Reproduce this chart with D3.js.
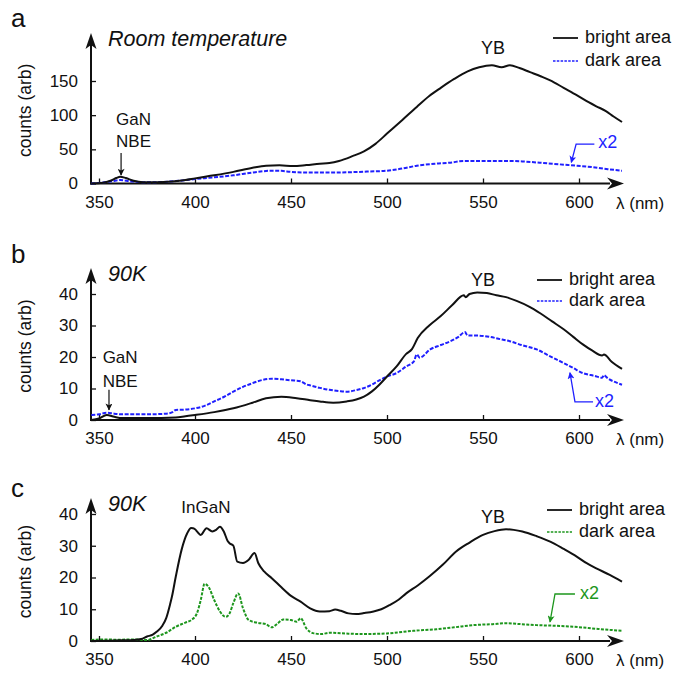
<!DOCTYPE html>
<html>
<head>
<meta charset="utf-8">
<script src="https://cdn.jsdelivr.net/npm/d3@7"></script>
<style>
  body { margin: 0; background: #fff; }
  svg text { font-family: "Liberation Sans", Arial, sans-serif; fill: #111; }
</style>
</head>
<body>
<svg id="chart" width="673" height="673"></svg>
<script>
// x ticks shared by all panels (wavelength, nm)
const xTicks = [350, 400, 450, 500, 550, 600];

// panel a - room temperature, [wavelength, counts]
const aTicks = [0, 50, 100, 150];
const aBright = [[346,0],[352,1],[356,4],[359,8],[361,10],[364,8],[368,4],[373,2],[380,2],[388,3],[395,5],[400,7.5],[410,12],[420,17],[430,23],[437,26],[444,26.6],[451,25.5],[458,27],[465,29],[470,30],[475,33],[482,40],[488,47],[494,58],[500,73],[508,93],[515.5,112],[522,128],[528,140],[535,153],[542,164],[548,170],[554.6,173],[559.7,170],[564,173],[569,169],[574.5,163],[580,157],[585,151],[592,140],[599,129],[605,119],[609,113],[614,106],[618,98],[622.4,90]];
const aDark = [[346,0],[352,1.5],[357,3.5],[361,5],[366,3.5],[372,2],[380,2],[390,3.5],[400,6.5],[410,9],[420,12],[430,16],[440,18.7],[445,18.5],[450,17],[460,16],[470,16],[480,16.5],[490,17.5],[500,18.7],[508,22],[515.5,26],[525,29],[533,30.5],[540,33],[550,33],[564,33],[572,32],[581.5,30],[590,28],[599,26],[607,24],[615,21],[622.4,18.7]];

// panel b - 90K
const bTicks = [0, 10, 20, 30, 40];
const bBright = [[346,0],[350,0.5],[354,1.6],[358,1],[362,0.6],[375,0.6],[390,0.8],[395,1.2],[400,1.6],[410,2.5],[420,3.7],[430,5.5],[437,6.9],[445,7.4],[453,6.9],[460,6.3],[465,5.9],[472,5.5],[479,5.9],[484,6.5],[488,7.4],[492,9],[496,11.2],[500,13.8],[505,17],[510,21],[513,22.5],[516,26],[522,30],[528,33],[534,36.5],[540,39.6],[541,39],[543,40],[547,40.5],[552,40.3],[557,39.6],[562,39],[567.5,37.8],[574,36],[580,33.8],[586,31.3],[592,28.8],[597,26.4],[602,24],[607,22],[612,20.5],[613,20.8],[617,18.5],[622.4,16.2]];
const bDark = [[346,1.6],[350,1.8],[354,2.3],[358,2.0],[362,1.8],[375,1.8],[385,2],[388,2.4],[390,3.2],[395,3.3],[400,3.7],[405,4.5],[410,5.9],[415,7.3],[420,9],[425,10.5],[430,11.7],[435,12.7],[440,13.1],[445,12.9],[450,12.6],[455,12.3],[458,11.3],[460,11],[465,10.2],[470,9.6],[475,9.2],[479,9],[484,9.5],[487.7,10.1],[492,11.2],[496,12.6],[500,13.8],[505,14.9],[510,17],[514,18.6],[515.5,20.8],[517,19.8],[522.5,22.4],[528,23.8],[533,25],[537,26.3],[540.6,27.9],[542,26.8],[547,26.8],[553.5,26.4],[558,25.8],[564,25],[570,23.8],[578,22.4],[585,20.2],[592,18.1],[597,16.5],[602,14.9],[608,14],[612,13.4],[613,14.2],[615,13.2],[619,12],[622.4,11.2]];

// panel c - 90K, InGaN
const cTicks = [0, 10, 20, 30, 40];
const cBright = [[346,0],[355,0.1],[362,0.2],[368,0.3],[372,0.6],[375,1.4],[378,2],[380,2.9],[383,4.8],[385,7.2],[387,11.5],[388,14],[390,20.3],[393,28.7],[396,34],[398,35.6],[399,35.5],[400,35.2],[401.5,34.2],[403,33.4],[406,35.5],[409,34.5],[411,35],[413,36],[415,34.5],[417,31.5],[418,30.8],[420,30],[422,25],[425,24.6],[428,25.6],[431,27.7],[433,24.5],[436,21.9],[440,19.8],[445,16.9],[450,14.2],[455,12.4],[460,10.3],[465,9.3],[470,9.4],[473,9.9],[476,9.5],[480,8.7],[484,8.5],[488,8.8],[493,9.3],[497,10],[501.6,11.4],[506,13],[510,15],[516,17.5],[522,20.3],[529,24],[536,28.2],[543,31],[550,33.4],[556,34.6],[562,35.2],[566,35],[570.5,34.5],[578,33],[585,31.3],[592,29],[598.8,26.6],[604,24.5],[609,22.9],[616,20.8],[622.4,18.7]];
const cDark = [[346,0.3],[352,0.5],[360,0.4],[368,0.5],[375,0.3],[380,1.4],[385,2.6],[390,4.5],[395,5.8],[398,6.6],[401,8.7],[403,12.9],[405,18],[407,17.1],[410,12.9],[413,9.3],[416,7.6],[418,8.7],[420,12],[422.5,15],[425,10.3],[428,6.6],[432,5.8],[437,5.3],[440,4.3],[443,5.5],[446,6.8],[450,6.6],[453,6.1],[455,7.2],[458,4],[462,2.4],[466,2.2],[470,2.6],[480,2.3],[488,2.2],[500,2.4],[513.6,3.2],[525.7,3.7],[535,4.3],[545,5],[555,5.3],[562,5.6],[570,5.3],[578,5],[588,4.8],[597,4.5],[610,3.8],[622.4,3.2]];

const BLUE = "#1f1fff";
const GREEN = "#1d961d";

const svg = d3.select("#chart");

// shared wavelength scale
const x = d3.scaleLinear().domain([350, 600]).range([99, 579]);
const axisLeftX = 91, axisRightX = 624;

const panels = [
  { letter: "a", title: "Room temperature", ticks: aTicks, bright: aBright, dark: aDark, color: BLUE,
    yDomain: [0, 150], yRange: [183.5, 81], top: 33, letterY: 27,
    legend: { x1: 553, y1: 38, y2: 61 },
    nbe: { lx: 368, arrowX: 361.5, y0: 44.5, y1: 12.4, t1: 85, t2: 53 },
    yb: [555.2, 190],
    x2: { tip: [596, 31], corner: [598.5, 57.5], end: 608, text: [610, 52] } },
  { letter: "b", title: "90K", ticks: bTicks, bright: bBright, dark: bDark, color: BLUE,
    yDomain: [0, 40], yRange: [420, 294], top: 268, letterY: 263,
    legend: { x1: 537, y1: 280, y2: 301 },
    nbe: { lx: 361, arrowX: 355.2, y0: 9.6, y1: 3.2, t1: 18.2, t2: 10.5 },
    yb: [550, 42.5],
    x2: { tip: [595.3, 15], corner: [597.9, 5.75], end: 607.3, text: [608.3, 4.2] } },
  { letter: "c", title: "90K", ticks: cTicks, bright: cBright, dark: cDark, color: GREEN,
    yDomain: [0, 40], yRange: [641, 514], top: 498, letterY: 497,
    legend: { x1: 547, y1: 510, y2: 532 },
    ingan: [405.7, 40.4],
    yb: [555.2, 37.2],
    x2: { tip: [584.9, 6.0], corner: [587.5, 14.8], end: 597.9, text: [600.5, 13.2] } }
];

// arrowhead markers
const defs = svg.append("defs");
function addMarker(id, color, w, h) {
  defs.append("marker")
    .attr("id", id)
    .attr("viewBox", "0 0 10 10")
    .attr("refX", 9).attr("refY", 5)
    .attr("markerWidth", w).attr("markerHeight", h)
    .attr("markerUnits", "userSpaceOnUse")
    .attr("orient", "auto")
    .append("path")
    .attr("d", "M0,0 L10,5 L0,10 L2.5,5 Z")
    .attr("fill", color);
}
addMarker("arrBlack", "#111", 8, 7);
addMarker("arrBlue", BLUE, 8, 7);
addMarker("arrGreen", GREEN, 8, 7);

panels.forEach((p) => {
  const y = d3.scaleLinear().domain(p.yDomain).range(p.yRange);
  const axisY = p.yRange[0];
  const g = svg.append("g");

  // x axis ticks (pointing up, into the plot)
  const xAxis = g.append("g")
    .attr("transform", "translate(0," + axisY + ")")
    .call(d3.axisBottom(x).tickValues(xTicks).tickSize(-5).tickPadding(12).tickFormat(d3.format("d")));
  xAxis.select(".domain").remove();
  xAxis.selectAll("line").attr("stroke", "#111").attr("stroke-width", 1.3);
  xAxis.selectAll("text").style("font-size", "17px").attr("fill", "#111");

  // y axis ticks (pointing right)
  const yAxis = g.append("g")
    .attr("transform", "translate(" + axisLeftX + ",0)")
    .call(d3.axisLeft(y).tickValues(p.ticks).tickSize(-5).tickPadding(13));
  yAxis.select(".domain").remove();
  yAxis.selectAll("line").attr("stroke", "#111").attr("stroke-width", 1.3);
  yAxis.selectAll("text").style("font-size", "17px").attr("fill", "#111");

  // axis lines with arrow heads
  g.append("line")
    .attr("x1", axisLeftX - 1).attr("x2", axisRightX - 14)
    .attr("y1", axisY).attr("y2", axisY)
    .attr("stroke", "#111").attr("stroke-width", 2);
  g.append("path")
    .attr("d", `M${axisRightX},${axisY} L${axisRightX - 17},${axisY - 6} L${axisRightX - 12},${axisY} L${axisRightX - 17},${axisY + 6} Z`)
    .attr("fill", "#111");
  g.append("line")
    .attr("x1", axisLeftX).attr("x2", axisLeftX)
    .attr("y1", axisY + 1).attr("y2", p.top + 12)
    .attr("stroke", "#111").attr("stroke-width", 2);
  g.append("path")
    .attr("d", `M${axisLeftX},${p.top} L${axisLeftX - 5.5},${p.top + 16} L${axisLeftX},${p.top + 12} L${axisLeftX + 5.5},${p.top + 16} Z`)
    .attr("fill", "#111");

  // axis titles
  g.append("text")
    .attr("x", 616).attr("y", axisY + 25)
    .style("font-size", "17px")
    .text("λ (nm)");
  const midY = (axisY + p.top) / 2 + 2;
  g.append("text")
    .attr("transform", "translate(25," + midY + ") rotate(-90)")
    .attr("text-anchor", "middle")
    .attr("dominant-baseline", "central")
    .style("font-size", "17.5px")
    .text("counts (arb)");

  // panel letter and title
  g.append("text")
    .attr("x", 11).attr("y", p.letterY)
    .style("font-size", "26px")
    .text(p.letter);
  g.append("text")
    .attr("x", 108).attr("y", p.top + 13)
    .style("font-size", "21.5px")
    .style("font-style", "italic")
    .text(p.title);

  // spectra
  const line = d3.line()
    .x((d) => x(d[0]))
    .y((d) => y(d[1]))
    .curve(d3.curveMonotoneX);

  g.append("path")
    .datum(p.dark)
    .attr("d", line)
    .attr("fill", "none")
    .attr("stroke", p.color)
    .attr("stroke-width", 2)
    .attr("stroke-dasharray", p.color === GREEN ? "3,1.4" : "4,1.6");

  g.append("path")
    .datum(p.bright)
    .attr("d", line)
    .attr("fill", "none")
    .attr("stroke", "#111")
    .attr("stroke-width", 2);

  // legend
  const L = p.legend;
  g.append("line")
    .attr("x1", L.x1).attr("x2", L.x1 + 25)
    .attr("y1", L.y1).attr("y2", L.y1)
    .attr("stroke", "#111").attr("stroke-width", 1.8);
  g.append("line")
    .attr("x1", L.x1).attr("x2", L.x1 + 25)
    .attr("y1", L.y2).attr("y2", L.y2)
    .attr("stroke", p.color).attr("stroke-width", 1.5)
    .attr("stroke-dasharray", "2.5,1.3");
  g.append("text")
    .attr("x", L.x1 + 32).attr("y", L.y1 + 5)
    .style("font-size", "18px")
    .text("bright area");
  g.append("text")
    .attr("x", L.x1 + 32).attr("y", L.y2 + 5)
    .style("font-size", "18px")
    .text("dark area");

  // YB label
  g.append("text")
    .attr("x", x(p.yb[0])).attr("y", y(p.yb[1]))
    .attr("text-anchor", "middle")
    .style("font-size", "18px")
    .text("YB");

  // GaN NBE annotation
  if (p.nbe) {
    const n = p.nbe;
    g.append("text")
      .attr("x", x(n.lx)).attr("y", y(n.t1))
      .attr("text-anchor", "middle")
      .style("font-size", "17px")
      .text("GaN");
    g.append("text")
      .attr("x", x(n.lx)).attr("y", y(n.t2))
      .attr("text-anchor", "middle")
      .style("font-size", "17px")
      .text("NBE");
    g.append("line")
      .attr("x1", x(n.arrowX)).attr("x2", x(n.arrowX))
      .attr("y1", y(n.y0)).attr("y2", y(n.y1))
      .attr("stroke", "#111").attr("stroke-width", 1.2)
      .attr("marker-end", "url(#arrBlack)");
  }

  if (p.ingan) {
    g.append("text")
      .attr("x", x(p.ingan[0])).attr("y", y(p.ingan[1]))
      .attr("text-anchor", "middle")
      .style("font-size", "17px")
      .text("InGaN");
  }

  // x2 scaling note for the dark curve
  const k = p.x2;
  g.append("path")
    .attr("d", `M${x(k.end)},${y(k.corner[1])} L${x(k.corner[0])},${y(k.corner[1])} L${x(k.tip[0])},${y(k.tip[1])}`)
    .attr("fill", "none")
    .attr("stroke", p.color)
    .attr("stroke-width", 1.3)
    .attr("marker-end", p.color === GREEN ? "url(#arrGreen)" : "url(#arrBlue)");
  g.append("text")
    .attr("x", x(k.text[0])).attr("y", y(k.text[1]))
    .style("font-size", "18px")
    .style("fill", p.color)
    .text("x2");
});
</script>
</body>
</html>
